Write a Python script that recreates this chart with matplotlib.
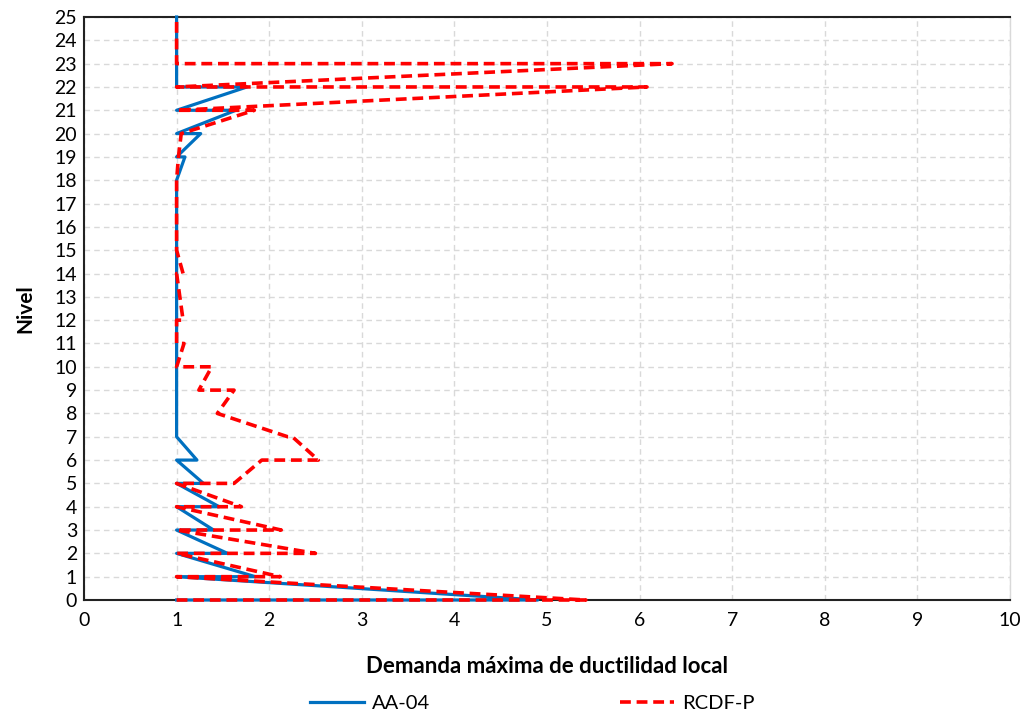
import matplotlib
matplotlib.use("Agg")
import matplotlib.pyplot as plt

# levels (two points per level: first end, second end)
niveles = list(range(26))

# AA-04
aa04_a = [1, 1, 1, 1, 1, 1, 1, 1, 1, 1, 1, 1, 1, 1, 1, 1, 1, 1, 1, 1.09, 1.26, 1.64, 1.76, 1, 1, 1]
aa04_b = [4.9, 1.85, 1.55, 1.40, 1.46, 1.29, 1.22, 1, 1, 1, 1, 1, 1, 1, 1, 1, 1, 1, 1, 1, 1, 1, 1, 1, 1, 1]

# RCDF-P
rcdf_a = [1, 1, 1, 1, 1, 1, 1.92, 2.25, 1.44, 1.62, 1.38, 1.08, 1, 1.035, 1, 1, 1, 1, 1, 1.02, 1.05, 1.84, 6.08, 6.35, 1, 1]
rcdf_b = [5.42, 2.12, 2.50, 2.13, 1.70, 1.62, 2.53, 2.20, 1.44, 1.24, 1.0, 1.0, 1.07, 1.035, 1.07, 1, 1, 1, 1, 1.02, 1.05, 1.0, 1.0, 1.0, 1, 1]


def build_path(xa, xb, ys):
    xs, yy = [], []
    for a, b, y in zip(xa, xb, ys):
        xs += [a, b]
        yy += [y, y]
    return xs, yy


plt.rcParams['font.family'] = ['Lato', 'DejaVu Sans']

fig = plt.figure(figsize=(10.28, 7.19), dpi=100)
ax = fig.add_axes([84 / 1028, 1 - 600 / 719, (1010 - 84) / 1028, (600 - 17) / 719])

x1, y1 = build_path(aa04_a, aa04_b, niveles)
x2, y2 = build_path(rcdf_a, rcdf_b, niveles)

ax.plot(x1, y1, color='#0070C0', lw=2.3, label='AA-04', zorder=3, clip_on=False)
ax.plot(x2, y2, color='#FF0000', lw=2.6, ls=(0, (3, 1.6)), label='RCDF-P', zorder=4, clip_on=False)

ax.set_xlim(0, 10)
ax.set_ylim(0, 25)
ax.set_xticks(range(0, 11))
ax.set_yticks(range(0, 26))
ax.tick_params(length=0, labelsize=14, pad=5)
ax.tick_params(axis='x', pad=9)
ax.grid(True, color='#D9D9D9', ls=(0, (4, 3)), lw=1)
ax.set_axisbelow(True)

for s in ['left', 'bottom', 'top']:
    ax.spines[s].set_color('#222222')
    ax.spines[s].set_linewidth(1.5)
ax.spines['right'].set_color('#D9D9D9')
ax.spines['right'].set_linewidth(1)

ax.set_xlabel('Demanda máxima de ductilidad local', fontsize=16, fontweight='bold', labelpad=19)
ax.set_ylabel('Nivel', fontsize=15, fontweight='bold', labelpad=14)

fig.legend(loc='center', bbox_to_anchor=(532 / 1028, 1 - 703 / 719), ncol=2, frameon=False,
           fontsize=14.5, handlelength=2.7, handletextpad=0.4, columnspacing=9.4)

fig.savefig('out.png', dpi=100)
